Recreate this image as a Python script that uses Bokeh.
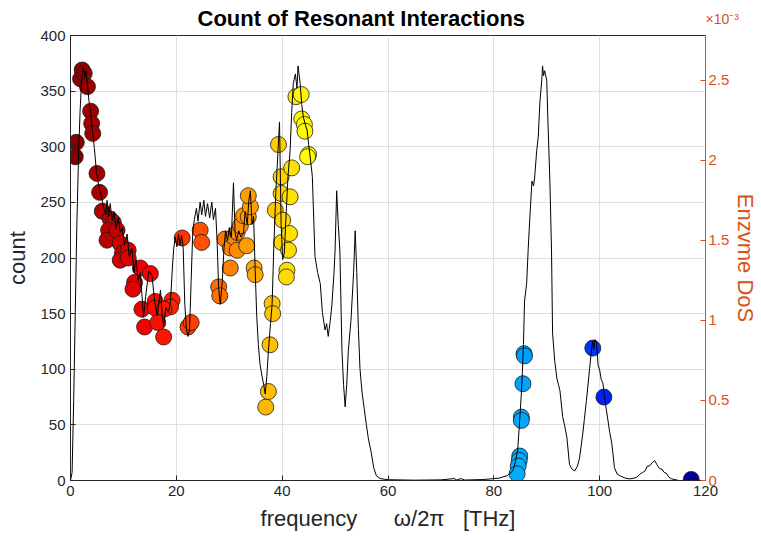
from bokeh.plotting import figure
from bokeh.models import Range1d, LinearAxis, FixedTicker, ColumnDataSource, Title
from bokeh.transform import linear_cmap
from bokeh.embed import file_html
from bokeh.resources import INLINE

# ---------------- data ----------------
# Enzyme density of states (units of 1e-3) vs frequency (THz)
dos_freq = [0.0, 0.3, 0.6, 0.9, 1.2, 1.5, 1.8, 2.1, 2.4, 2.7, 2.9, 3.2, 3.5, 3.8, 4.1, 4.5, 4.9, 5.3, 5.8, 6.3,
            6.7, 6.9, 7.2, 7.5, 7.9, 8.2, 8.6, 9.0, 9.4, 9.8, 10.2, 10.7, 11.1, 11.6, 12.0, 12.4, 12.8, 13.2, 13.8, 14.2,
            14.8, 15.4, 15.9, 16.4, 17.0, 17.3, 17.6, 18.0, 18.5, 18.9, 19.2, 19.5, 19.8, 20.1, 20.4, 20.7, 21.0, 21.3, 21.6, 21.9,
            22.2, 22.5, 22.8, 23.1, 23.4, 23.8, 24.1, 24.5, 24.8, 25.2, 25.5, 25.9, 26.3, 26.7, 27.0, 27.4, 27.7, 28.0, 28.3, 28.7,
            29.0, 29.3, 29.7, 30.0, 30.4, 30.8, 31.1, 31.4, 31.8, 32.2, 32.7, 33.0, 33.4, 33.7, 34.0, 34.3, 34.6, 34.9, 35.2, 35.5,
            35.8, 36.2, 36.5, 36.8, 37.1, 37.4, 37.8, 38.1, 38.4, 38.8, 39.2, 39.5, 39.8, 40.1, 40.4, 40.8, 41.1, 41.5, 41.8, 42.1,
            42.5, 42.8, 43.0, 43.4, 43.7, 44.0, 44.4, 44.7, 45.0, 45.3, 45.7, 46.0, 46.2, 46.7, 47.2, 47.6, 48.1, 48.4, 48.7, 49.1,
            49.4, 49.8, 50.0, 50.3, 50.6, 50.9, 51.3, 51.6, 51.9, 52.2, 52.5, 53.0, 53.5, 53.8, 54.1, 54.4, 54.7, 55.1, 55.5, 55.9,
            56.3, 56.8, 57.3, 57.8, 58.5, 60.0, 65.0, 70.0, 72.5, 73.0, 73.8, 74.5, 78.0, 81.0, 82.5, 83.6, 84.1, 84.5, 84.9, 85.3,
            85.6, 85.8, 86.2, 86.5, 86.8, 87.2, 87.5, 87.7, 88.1, 88.4, 88.7, 89.1, 89.2, 89.4, 89.6, 90.0, 90.2, 90.6, 90.9, 91.1,
            91.5, 91.9, 92.2, 92.5, 93.0, 93.4, 93.8, 94.3, 94.8, 95.3, 95.8, 96.2, 96.8, 97.1, 97.5, 98.1, 98.4, 98.7, 98.9, 99.1,
            99.4, 99.7, 100.0, 100.3, 100.6, 101.0, 101.5, 101.9, 102.3, 102.8, 103.3, 103.8, 104.8, 105.7, 106.5, 107.0, 107.6, 108.1, 108.6, 109.0,
            109.4, 109.9, 110.4, 110.8, 111.3, 111.8, 112.2, 112.6, 113.1, 113.6, 115.0, 120.0]
dos_val = [0.0, 0.05, 0.5, 1.05, 1.6, 2.0, 2.3, 2.5, 2.58, 2.52, 2.56, 2.47, 2.37, 2.3, 2.2, 2.08, 1.93, 1.85, 1.78, 1.7,
           1.66, 1.75, 1.65, 1.73, 1.62, 1.68, 1.57, 1.64, 1.55, 1.58, 1.47, 1.54, 1.4, 1.45, 1.3, 1.38, 1.25, 1.3, 1.02, 1.15,
           1.31, 1.28, 1.12, 1.03, 1.19, 1.05, 0.96, 1.08, 1.05, 1.12, 1.3, 1.45, 1.52, 1.46, 1.54, 1.47, 1.53, 1.45, 1.1, 0.95,
           0.9, 0.94, 1.25, 1.55, 1.63, 1.7, 1.62, 1.74, 1.66, 1.75, 1.65, 1.73, 1.64, 1.74, 1.63, 1.7, 1.5, 1.2, 1.1, 1.25,
           1.45, 1.56, 1.5, 1.58, 1.52, 1.86, 1.55, 1.5, 1.56, 1.52, 1.55, 1.68, 1.6, 1.75, 1.81, 1.6, 1.65, 1.31, 1.02, 0.85,
           0.73, 0.65, 0.6, 0.54, 0.65, 0.81, 0.98, 1.1, 1.44, 1.8, 2.05, 2.24, 1.6, 1.38, 1.42, 1.7, 1.9, 2.06, 2.3, 2.48,
           2.54, 2.45, 2.59, 2.48, 2.35, 2.27, 2.22, 2.19, 2.1, 2.02, 1.9, 1.6, 1.4, 1.3, 1.23, 1.05, 0.94, 0.98, 0.9, 1.0,
           1.1, 1.3, 1.44, 1.81, 1.6, 1.44, 0.81, 0.6, 0.46, 0.6, 0.81, 1.0, 1.3, 1.56, 1.3, 0.95, 0.7, 0.55, 0.45, 0.35,
           0.26, 0.18, 0.08, 0.03, 0.012, 0.005, 0.002, 0.004, 0.012, 0.003, 0.012, 0.003, 0.006, 0.015, 0.03, 0.06, 0.12, 0.19, 0.38, 0.6,
           0.85, 1.12, 1.23, 1.45, 1.64, 1.87, 1.84, 1.89, 2.06, 2.15, 2.36, 2.52, 2.59, 2.53, 2.56, 2.5, 2.27, 1.86, 1.44, 0.92,
           0.75, 0.64, 0.6, 0.56, 0.4, 0.34, 0.27, 0.1, 0.07, 0.06, 0.09, 0.14, 0.29, 0.38, 0.5, 0.7, 0.8, 0.87, 0.82, 0.88,
           0.86, 0.72, 0.69, 0.63, 0.61, 0.5, 0.39, 0.3, 0.23, 0.08, 0.04, 0.03, 0.015, 0.01, 0.015, 0.02, 0.04, 0.05, 0.06, 0.09,
           0.09, 0.11, 0.125, 0.1, 0.075, 0.07, 0.05, 0.045, 0.02, 0.01, 0.0, 0.0]

# Resonant interaction counts
res_freq = [1.1, 0.9, 2.2, 1.9, 2.6, 3.2, 3.8, 4.0, 4.2, 5.0, 5.5, 6.0, 7.5, 8.1, 7.2, 6.9, 8.8, 9.4, 9.8, 10.9,
            9.4, 10.9, 13.2, 15.1, 12.1, 11.8, 13.5, 16.0, 16.0, 19.2, 18.9, 17.7, 14.0, 16.5, 17.6,
            22.2, 22.8, 21.1, 24.5, 24.8,
            28.0, 28.2, 30.2, 29.2, 30.2, 30.8, 31.5, 31.5, 32.1, 32.7, 33.3, 33.6, 34.0, 33.6, 34.7, 34.9,
            36.9, 37.4, 37.7, 38.1, 38.2, 38.7, 39.3, 39.8, 39.8, 40.1, 39.9, 40.9, 40.8, 41.2, 41.4, 41.5, 41.8,
            42.6, 43.6, 43.7, 44.2, 44.3, 45.0, 44.8,
            85.7, 85.8, 85.5, 85.2, 85.2, 84.9, 84.8, 84.6, 84.4,
            98.7, 100.8, 117.3]
res_count = [304, 291, 369, 361, 366, 354, 332, 321, 312, 276, 259, 242, 235, 232, 225, 216, 225, 213, 204, 207,
             198, 200, 191, 186, 178, 172, 154, 161, 155, 162, 156, 154, 138, 142, 129,
             138, 142, 218, 225, 214,
             174, 166, 191, 217, 209, 219, 223, 207, 229, 238, 211, 237, 246, 256, 191, 185,
             66, 80, 122, 159, 150, 243, 302, 273, 258, 234, 214, 189, 183, 207, 222, 255, 281,
             345, 347, 325, 320, 314, 293, 291,
             114, 112, 87, 57, 54, 22, 18, 13, 6,
             119, 75, 1]

x_ticks = [0, 20, 40, 60, 80, 100, 120]
count_ticks = [0, 50, 100, 150, 200, 250, 300, 350, 400]
dos_ticks = [0, 0.5, 1, 1.5, 2, 2.5]
dos_tick_labels = ["0", "0.5", "1", "1.5", "2", "2.5"]

# ---------------- style ----------------
FONT = "Liberation Sans"
DARK = "#262626"
ORANGE = "#D95319"
GRID = "#dfdfdf"


def jet_hex(t):
    def c(v):
        return max(0.0, min(1.0, v))
    r = c(1.5 - abs(4 * t - 3))
    g = c(1.5 - abs(4 * t - 2))
    b = c(1.5 - abs(4 * t - 1))
    return "#%02x%02x%02x" % (int(round(r * 255)), int(round(g * 255)), int(round(b * 255)))


# dark red at low frequency -> dark blue at high frequency
palette = [jet_hex(1 - i / 255) for i in range(256)]

p = figure(width=761, height=537, x_range=Range1d(0, 120), y_range=Range1d(0, 400),
           output_backend="svg", toolbar_location=None,
           min_border_left=70, min_border_right=55, min_border_top=35, min_border_bottom=57)
p.title = None
p.extra_y_ranges = {"dos": Range1d(0, 2.78)}
p.background_fill_color = "white"
p.border_fill_color = "white"
p.outline_line_color = DARK
p.outline_line_width = 1

# main title (closest to the frame)
main_title = Title(text="Count of Resonant Interactions", text_font=FONT, text_font_size="22px",
                   text_font_style="bold", text_color="black", align="left", offset=127,
                   vertical_align="middle", standoff=7)
p.add_layout(main_title, "above")

# exponent marker of the right axis (same row as the title)
exp_title = Title(text="\n\n\u00d710\u207b\u00b3", text_font=FONT, text_font_size="14px",
                  text_font_style="normal", text_color=ORANGE, align="left", offset=635,
                  vertical_align="bottom", standoff=-50)
p.add_layout(exp_title, "above")

# grids
p.xgrid.ticker = FixedTicker(ticks=x_ticks)
p.ygrid.ticker = FixedTicker(ticks=count_ticks)
for g in (p.xgrid, p.ygrid):
    g.grid_line_color = GRID
    g.grid_line_width = 1

# bottom axis
xa = p.xaxis[0]
xa.ticker = FixedTicker(ticks=x_ticks)
xa.axis_label = "frequency\u00a0\u00a0\u00a0\u00a0\u00a0\u00a0\u03c9/2\u03c0\u00a0\u00a0\u00a0[THz]"

# left axis
ya = p.yaxis[0]
ya.ticker = FixedTicker(ticks=count_ticks)
ya.axis_label = "count"

for ax in (xa, ya):
    ax.axis_line_color = DARK
    ax.major_tick_line_color = DARK
    ax.major_tick_in = 5
    ax.major_tick_out = 0
    ax.minor_tick_line_color = None
    ax.major_label_text_font = FONT
    ax.major_label_text_font_size = "15px"
    ax.major_label_text_color = DARK
    ax.axis_label_text_font = FONT
    ax.axis_label_text_font_size = "22px"
    ax.axis_label_text_font_style = "normal"
    ax.axis_label_text_color = DARK
    ax.major_label_standoff = 5
    ax.axis_label_standoff = 7

# right DoS axis
ra = LinearAxis(y_range_name="dos", ticker=FixedTicker(ticks=dos_ticks))
ra.major_label_overrides = {t: s for t, s in zip(dos_ticks, dos_tick_labels)}
ra.axis_label = "Enzvme DoS"
ra.axis_line_color = ORANGE
ra.major_tick_line_color = ORANGE
ra.major_tick_in = 5
ra.major_tick_out = 0
ra.minor_tick_line_color = None
ra.major_label_text_font = FONT
ra.major_label_text_font_size = "15px"
ra.major_label_text_color = ORANGE
ra.axis_label_text_font = FONT
ra.axis_label_text_font_size = "22px"
ra.axis_label_text_font_style = "normal"
ra.axis_label_text_color = ORANGE
ra.major_label_standoff = 3
ra.axis_label_standoff = 1
p.add_layout(ra, "right")

# scatter of resonant counts
src = ColumnDataSource(dict(f=res_freq, c=res_count))
p.scatter("f", "c", source=src, size=16,
          fill_color=linear_cmap("f", palette, 0, 120),
          line_color="#1a1a1a", line_width=0.8)

# DoS line
p.line(dos_freq, dos_val, y_range_name="dos", line_color="black", line_width=1)

open("out.html", "w").write(file_html(p, INLINE))
